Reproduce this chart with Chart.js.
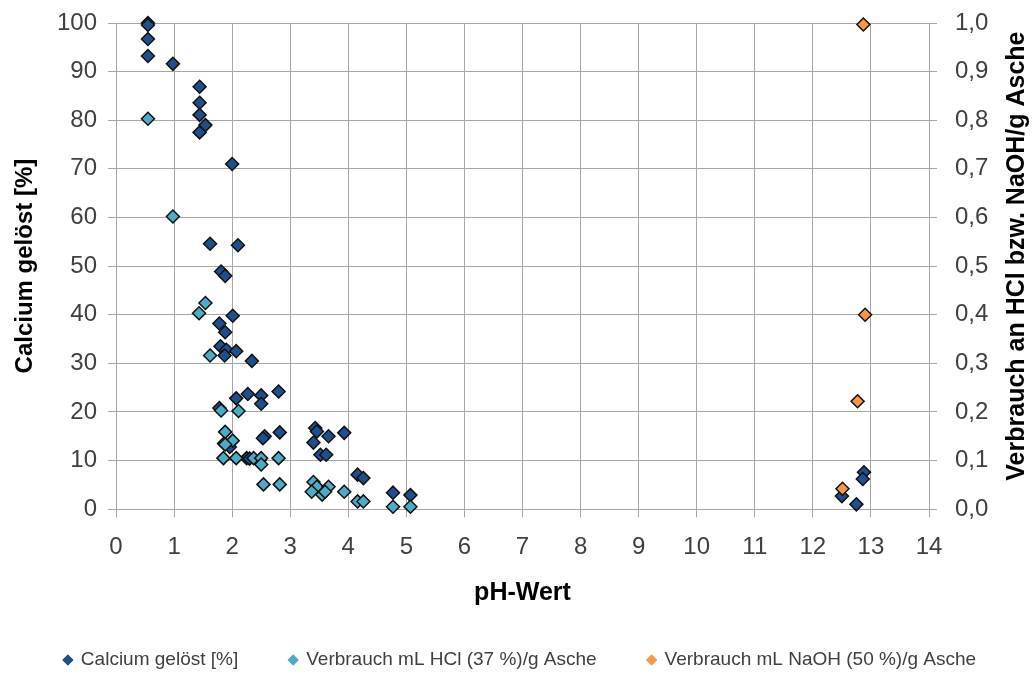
<!DOCTYPE html>
<html>
<head>
<meta charset="utf-8">
<script src="https://cdn.jsdelivr.net/npm/chart.js@4/dist/chart.umd.min.js"></script>
<style>
  html, body { margin: 0; padding: 0; background: #fff; }
  #wrap { width: 1032px; height: 677px; }
</style>
</head>
<body>
<div id="wrap"><canvas id="phChart" width="1032" height="677"></canvas></div>
<script>
// Calcium gelöst [%] gegen pH-Wert
const calciumPH = [0.55, 0.55, 0.55, 0.55, 0.98, 1.44, 1.44, 1.44, 1.54, 1.44,
    2.00, 1.62, 2.10, 1.81, 1.88, 2.01, 1.78, 1.88, 1.80, 1.90,
    1.87, 2.07, 2.34, 2.07, 2.27, 2.50, 2.50, 2.80, 1.78, 2.56,
    2.53, 2.82, 1.86, 1.96, 2.25, 2.30, 2.47, 3.43, 3.46, 3.66,
    3.93, 3.40, 3.52, 3.62, 4.16, 4.26, 4.77, 5.07, 12.88, 12.86,
    12.50, 12.75];
const calciumPct = [100.0, 99.6, 96.7, 93.2, 91.6, 86.9, 83.6, 81.1, 79.0, 77.5,
    71.0, 54.6, 54.3, 48.9, 48.0, 39.8, 38.2, 36.4, 33.5, 32.8,
    31.6, 32.5, 30.5, 22.8, 23.7, 23.4, 21.7, 24.2, 20.8, 15.0,
    14.6, 15.8, 13.5, 12.8, 10.5, 10.4, 10.0, 16.7, 16.0, 15.0,
    15.7, 13.7, 11.2, 11.2, 7.1, 6.4, 3.4, 2.9, 7.6, 6.2,
    2.7, 1.0];

// Verbrauch mL HCl (37 %)/g Asche
const hclPH = [0.55, 0.98, 1.54, 1.43, 1.62, 1.81, 2.11, 1.88, 2.01, 1.88,
    1.85, 2.07, 2.37, 2.50, 2.50, 2.80, 2.54, 2.82, 3.40, 3.46,
    3.66, 3.37, 3.55, 3.60, 3.93, 4.16, 4.26, 4.77, 5.07];
const hclUse = [0.803, 0.602, 0.424, 0.403, 0.316, 0.203, 0.202, 0.159, 0.141, 0.133,
    0.105, 0.105, 0.105, 0.105, 0.092, 0.105, 0.051, 0.051, 0.056, 0.046,
    0.046, 0.036, 0.030, 0.036, 0.036, 0.016, 0.016, 0.005, 0.005];

// Verbrauch mL NaOH (50 %)/g Asche
const naohPH = [12.87, 12.90, 12.77, 12.51];
const naohUse = [0.997, 0.400, 0.222, 0.042];

const xTicks = [0, 14, 1];
const yLeftTicks = [0, 100, 10];
const yRightTicks = [0, 1, 0.1];

const toPoints = (xs, ys) => xs.map((x, i) => ({ x: x, y: ys[i] }));

const FONT = '"Liberation Sans", Arial, sans-serif';
const gridGrey = '#a6a6a6';
const textGrey = '#404040';

// right axis title reads bottom-to-top like the left one
const rightTitle = {
    id: 'rightTitle',
    afterDraw(chart) {
        const ctx = chart.ctx;
        const area = chart.chartArea;
        ctx.save();
        ctx.translate(1017, (area.top + area.bottom) / 2 - 10);
        ctx.rotate(-Math.PI / 2);
        ctx.font = 'bold 25px ' + FONT;
        ctx.fillStyle = '#000';
        ctx.textAlign = 'center';
        ctx.textBaseline = 'middle';
        ctx.fillText('Verbrauch an HCl bzw. NaOH/g Asche', 0, 0);
        ctx.restore();
    }
};

// legend row under the axis title, small diamonds without outline
const bottomLegend = {
    id: 'bottomLegend',
    afterDraw(chart) {
        const ctx = chart.ctx;
        const sets = chart.data.datasets;
        const gap = 13, spacing = 55, y = 660;
        ctx.save();
        ctx.font = '19px ' + FONT;
        const widths = sets.map(ds => ctx.measureText(ds.label).width);
        const total = widths.reduce((s, w) => s + gap + w, 0) + spacing * (sets.length - 1);
        let x = 522 - total / 2;
        sets.forEach((ds, i) => {
            ctx.fillStyle = ds.backgroundColor;
            ctx.strokeStyle = ds.backgroundColor;
            Chart.helpers.drawPoint(ctx, { pointStyle: 'rectRot', radius: 5.5, borderWidth: 0 }, x, y);
            ctx.fill();
            ctx.fillStyle = textGrey;
            ctx.textAlign = 'left';
            ctx.textBaseline = 'middle';
            ctx.fillText(ds.label, x + gap, y);
            x += gap + widths[i] + spacing;
        });
        ctx.restore();
    }
};

const markerStyle = (fill) => ({
    backgroundColor: fill,
    borderColor: '#111',
    borderWidth: 1.5,
    pointStyle: 'rectRot',
    pointRadius: 6.5,
    pointHoverRadius: 6.5,
    clip: false
});

// vertical axes: fixed width, no extra room for the end labels
const fixWidth = (w) => (scale) => {
    scale.width = w;
    scale.paddingTop = 0;
    scale.paddingBottom = 0;
};

new Chart(document.getElementById('phChart').getContext('2d'), {
    type: 'scatter',
    data: {
        datasets: [
            Object.assign({
                label: 'Calcium gelöst [%]',
                data: toPoints(calciumPH, calciumPct),
                yAxisID: 'y',
                order: 3
            }, markerStyle('#1f4e8c')),
            Object.assign({
                label: 'Verbrauch mL HCl (37 %)/g Asche',
                data: toPoints(hclPH, hclUse),
                yAxisID: 'y1',
                order: 2
            }, markerStyle('#4bacc6')),
            Object.assign({
                label: 'Verbrauch mL NaOH (50 %)/g Asche',
                data: toPoints(naohPH, naohUse),
                yAxisID: 'y1',
                order: 1
            }, markerStyle('#f79646'))
        ]
    },
    options: {
        responsive: false,
        animation: false,
        layout: { padding: { top: 23, bottom: 34, left: 0, right: 0 } },
        scales: {
            x: {
                type: 'linear',
                min: xTicks[0],
                max: xTicks[1],
                ticks: {
                    stepSize: xTicks[2],
                    padding: 16,
                    color: textGrey,
                    font: { family: FONT, size: 24 }
                },
                grid: { color: gridGrey, lineWidth: 1, tickLength: 8 },
                border: { color: gridGrey },
                title: {
                    display: true,
                    text: 'pH-Wert',
                    color: '#000',
                    font: { family: FONT, size: 25, weight: 'bold' },
                    padding: { top: 0, bottom: 35 }
                }
            },
            y: {
                position: 'left',
                min: yLeftTicks[0],
                max: yLeftTicks[1],
                ticks: {
                    stepSize: yLeftTicks[2],
                    padding: 11,
                    color: textGrey,
                    font: { family: FONT, size: 24 }
                },
                grid: { color: gridGrey, lineWidth: 1, tickLength: 8 },
                border: { color: gridGrey },
                title: {
                    display: true,
                    text: 'Calcium gelöst [%]',
                    color: '#000',
                    font: { family: FONT, size: 24, weight: 'bold' },
                    padding: { top: 11, bottom: 0 }
                },
                afterFit: fixWidth(116)
            },
            y1: {
                position: 'right',
                min: yRightTicks[0],
                max: yRightTicks[1],
                ticks: {
                    stepSize: yRightTicks[2],
                    padding: 18,
                    color: textGrey,
                    font: { family: FONT, size: 24 },
                    callback: (v) => v.toFixed(1).replace('.', ',')
                },
                grid: { color: gridGrey, lineWidth: 1, tickLength: 8, drawOnChartArea: false },
                border: { color: gridGrey },
                afterFit: fixWidth(103)
            }
        },
        plugins: {
            legend: { display: false },
            tooltip: { enabled: false }
        }
    },
    plugins: [rightTitle, bottomLegend]
});
</script>
</body>
</html>
